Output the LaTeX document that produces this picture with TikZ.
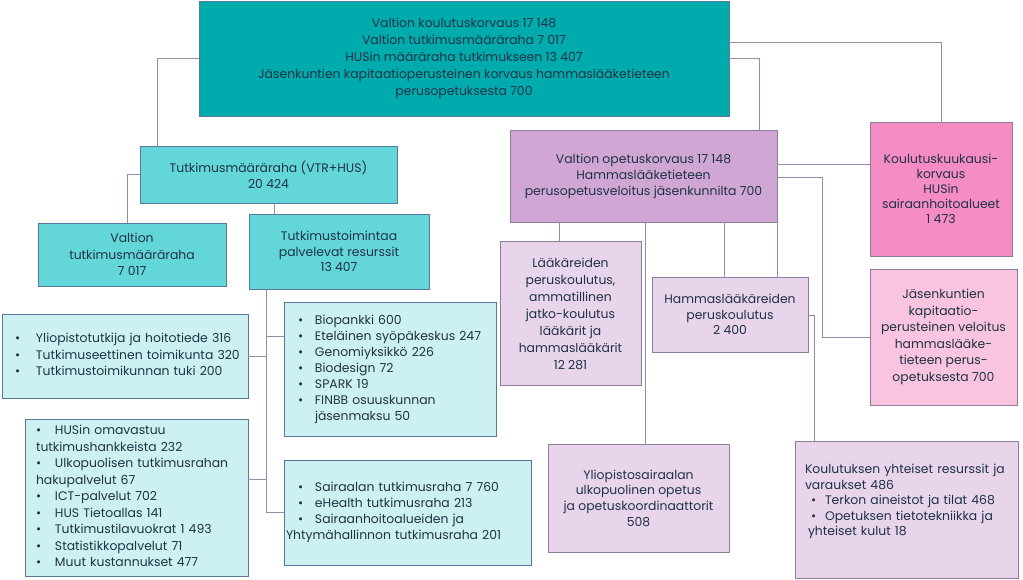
\documentclass[tikz,border=0pt]{standalone}
\usepackage{fontspec}
\setmainfont{Poppins}
\usepackage{xcolor}
\usepackage{tikz}
\definecolor{husteal}{HTML}{00ABAD}
\definecolor{tealmid}{HTML}{63D6DA}
\definecolor{tealpale}{HTML}{CDF0F2}
\definecolor{lilac}{HTML}{D0A7D4}
\definecolor{lilacpale}{HTML}{E8D4EB}
\definecolor{rose}{HTML}{F58DC4}
\definecolor{rosepale}{HTML}{F9C4DF}
\definecolor{tealedge}{HTML}{56799A}
\definecolor{lilacedge}{HTML}{8C7C9E}
\definecolor{linkcol}{HTML}{9E87AA}
\definecolor{ink}{HTML}{1F3344}

\newcommand{\bitem}[1][19pt]{\makebox[#1][l]{\textbullet}}

\tikzset{
  orgbox/.style={draw=tealedge,line width=0.8pt,inner sep=0pt,text=ink,
    font=\fontsize{12.4}{16.5}\selectfont,align=center},
  topbox/.style={orgbox,fill=husteal},
  midbox/.style={orgbox,fill=tealmid},
  listbox/.style={orgbox,fill=tealpale,align=left},
  opbox/.style={orgbox,draw=lilacedge,fill=lilac},
  subbox/.style={orgbox,draw=lilacedge,fill=lilacpale},
  rosebox/.style={orgbox,draw=lilacedge,fill=rose},
  palerose/.style={orgbox,draw=lilacedge,fill=rosepale},
  link/.style={draw=linkcol,line width=0.8pt}
}

\begin{document}
\begin{tikzpicture}[x=1pt,y=-1pt]
\useasboundingbox (0,0) rectangle (1023,579);

% rahoitus ylhaalla
\node[topbox,minimum width=530,minimum height=115,font=\fontsize{12.4}{17}\selectfont] (top) at (464,58.5)
  {Valtion koulutuskorvaus 17 148\\Valtion tutkimusmääräraha 7 017\\HUSin määräraha tutkimukseen 13 407\\
   Jäsenkuntien kapitaatioperusteinen korvaus hammaslääketieteen\\perusopetuksesta 700};

% tutkimuksen puoli
\node[midbox,minimum width=257,minimum height=57] (tutk) at (268.5,174.5)
  {Tutkimusmääräraha (VTR+HUS)\\20 424};
\node[midbox,minimum width=188,minimum height=63] (valtut) at (132,254.5)
  {Valtion\\tutkimusmääräraha\\7 017};
\node[midbox,minimum width=180,minimum height=75,font=\fontsize{12.4}{15.5}\selectfont] (resurssit) at (339,251.5)
  {Tutkimustoimintaa\\palvelevat resurssit\\13 407};

\node[listbox,minimum width=246,minimum height=84,inner xsep=13pt,text width=220pt] (ylio) at (125,356)
  {\begin{tabular}{@{}l@{}}
   \bitem[21pt]Yliopistotutkija ja hoitotiede 316\\
   \bitem[21pt]Tutkimuseettinen toimikunta 320\\
   \bitem[21pt]Tutkimustoimikunnan tuki 200
   \end{tabular}};
\node[listbox,minimum width=212,minimum height=134,inner xsep=14pt,text width=184pt,font=\fontsize{12.4}{16}\selectfont] (bio) at (390,369)
  {\begin{tabular}{@{}l@{}}
   \bitem[17pt]Biopankki 600\\
   \bitem[17pt]Eteläinen syöpäkeskus 247\\
   \bitem[17pt]Genomiyksikkö 226\\
   \bitem[17pt]Biodesign 72\\
   \bitem[17pt]SPARK 19\\
   \bitem[17pt]FINBB osuuskunnan\\
   \hspace*{17pt}jäsenmaksu 50
   \end{tabular}};
\node[listbox,minimum width=223,minimum height=157,inner xsep=11pt,text width=201pt] (omav) at (136.5,497.5)
  {\begin{tabular}{@{}l@{}}
   \bitem HUSin omavastuu\\
   tutkimushankkeista 232\\
   \bitem Ulkopuolisen tutkimusrahan\\
   hakupalvelut 67\\
   \bitem ICT-palvelut 702\\
   \bitem HUS Tietoallas 141\\
   \bitem Tutkimustilavuokrat 1 493\\
   \bitem Statistikkopalvelut 71\\
   \bitem Muut kustannukset 477
   \end{tabular}};
\node[listbox,minimum width=247,minimum height=105,inner xsep=14pt,text width=219pt,font=\fontsize{12.4}{16}\selectfont] (sair) at (407.5,512.5)
  {\begin{tabular}{@{}l@{}}
   \bitem[17pt]Sairaalan tutkimusraha 7 760\\
   \bitem[17pt]eHealth tutkimusraha 213\\
   \bitem[17pt]Sairaanhoitoalueiden ja\\
   \hspace*{-12pt}Yhtymähallinnon tutkimusraha 201
   \end{tabular}};

% opetuksen puoli
\node[opbox,minimum width=267,minimum height=92,font=\fontsize{12.4}{16}\selectfont] (opetus) at (643.5,176)
  {Valtion opetuskorvaus 17 148\\Hammaslääketieteen\\perusopetusveloitus jäsenkunnilta 700};
\node[rosebox,minimum width=142,minimum height=134,font=\fontsize{12.4}{15}\selectfont] (kuukausi) at (941,189)
  {Koulutuskuukausi-\\korvaus\\HUSin\\sairaanhoitoalueet\\1 473};
\node[subbox,minimum width=141,minimum height=144,font=\fontsize{12.4}{17}\selectfont] (laak) at (570.5,313.5)
  {Lääkäreiden\\peruskoulutus,\\ammatillinen\\jatko-koulutus\\lääkärit ja\\hammaslääkärit\\12 281};
\node[subbox,minimum width=156,minimum height=75,font=\fontsize{12.4}{15.5}\selectfont] (hammas) at (730,314.5)
  {Hammaslääkäreiden\\peruskoulutus\\2 400};
\node[palerose,minimum width=147,minimum height=136] (kapit) at (943.5,337)
  {Jäsenkuntien\\kapitaatio-\\perusteinen veloitus\\hammaslääke-\\tieteen perus-\\opetuksesta 700};
\node[subbox,minimum width=181,minimum height=108,font=\fontsize{12.4}{15.7}\selectfont] (ulko) at (638.5,498)
  {Yliopistosairaalan\\ulkopuolinen opetus\\ja opetuskoordinaattorit\\508};
\node[subbox,align=left,minimum width=223,minimum height=137,inner xsep=10pt,text width=203pt,font=\fontsize{12.4}{15.5}\selectfont] (yhteiset) at (906.5,509.5)
  {\begin{tabular}{@{}l@{}}
   Koulutuksen yhteiset resurssit ja\\
   varaukset 486\\
   \hspace*{6pt}\bitem[14pt]Terkon aineistot ja tilat 468\\
   \hspace*{6pt}\bitem[14pt]Opetuksen tietotekniikka ja\\
   \hspace*{3pt}yhteiset kulut 18\\
   \mbox{}
   \end{tabular}};

% yhteydet, tutkimus
\draw[link] (top.west) -| ([xshift=18pt]tutk.north west);
\draw[link] (tutk.west) -| ([xshift=-5pt]valtut.north);
\coordinate (t1) at ([xshift=5.5pt]tutk.south);
\draw[link] (t1) -- (t1 |- resurssit.north);
\coordinate (trunk) at ([xshift=-73pt]resurssit.south);
\draw[link] (trunk) |- (sair.west);
\draw[link] (ylio.east) -| (trunk);
\draw[link] ([yshift=33pt]bio.west) -| (trunk);
\draw[link] ([yshift=18.5pt]omav.east) -| (trunk);

% yhteydet, opetus
\draw[link] (top.east) -| ([xshift=-18pt]opetus.north east);
\draw[link] ([yshift=16pt]top.east) -| (kuukausi.north);
\draw[link] ([yshift=12pt]opetus.east) -- ([yshift=25pt]kuukausi.west);
\draw[link] ([yshift=-1pt]opetus.east) -| ([xshift=-47pt]kapit.west) -- (kapit.west);
\coordinate (o1) at ([xshift=-11.5pt]laak.north);
\draw[link] (o1) -- (o1 |- opetus.south);
\coordinate (o2) at ([xshift=7pt]ulko.north);
\draw[link] (o2) -- (o2 |- opetus.south);
\coordinate (o3) at ([xshift=-6pt]hammas.north);
\draw[link] (o3) -- (o3 |- opetus.south);
\draw[link] (opetus.south east) -- (opetus.south east |- hammas.north);
\draw[link] ([yshift=-1pt]hammas.east) -| ([xshift=20pt]yhteiset.north west);
\end{tikzpicture}
\end{document}
